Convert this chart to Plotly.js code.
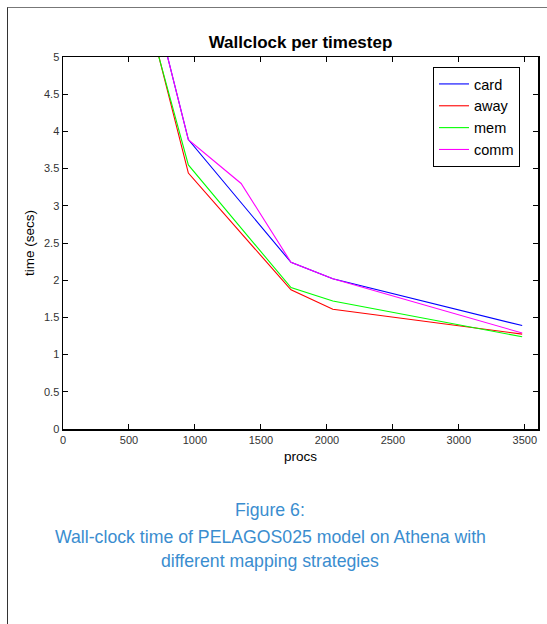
<!DOCTYPE html>
<html>
<head>
<meta charset="utf-8">
<script src="https://cdn.plot.ly/plotly-3.0.1.min.js"></script>
<style>
  html, body { margin: 0; padding: 0; background: #fff; }
  #wrap { position: relative; width: 547px; height: 624px; }
  #chart { position: absolute; left: 0; top: 0; width: 547px; height: 624px; }
  #frame { position: absolute; left: 7px; top: 7px; width: 545px; height: 620px;
           border-left: 1.5px solid #333; border-top: 1.5px solid #777; pointer-events: none; }
</style>
</head>
<body>
<div id="wrap">
  <div id="chart"></div>
  <div id="frame"></div>
</div>
<script>
// Data
const procs     = [650, 950, 1728, 2045, 3480];
const procsComm = [650, 950, 1350, 1728, 2045, 3480];
const card = [6.01, 3.89, 2.24, 2.02, 1.39];
const away = [5.54, 3.44, 1.87, 1.61, 1.275];
const mem  = [5.50, 3.55, 1.90, 1.72, 1.24];
const comm = [6.01, 3.89, 3.30, 2.24, 2.02, 1.29];

const seriesNames = ['card', 'away', 'mem', 'comm'];
const seriesColors = ['#0000ff', '#ff0000', '#00ff00', '#ff00ff'];
const xTickVals = [0, 500, 1000, 1500, 2000, 2500, 3000, 3500];
const yTickVals = [0, 0.5, 1, 1.5, 2, 2.5, 3, 3.5, 4, 4.5, 5];
const yTickText = ['0', '0.5', '1', '1.5', '2', '2.5', '3', '3.5', '4', '4.5', '5'];

const titleText = 'Wallclock per timestep';
const captionLines = ['Figure 6:', 'Wall-clock time of PELAGOS025 model on Athena with', 'different mapping strategies'];

const xs = [procs, procs, procs, procsComm];
const ys = [card, away, mem, comm];
const traces = seriesNames.map((n, i) => ({
  type: 'scatter', mode: 'lines', name: n,
  x: xs[i], y: ys[i],
  line: { color: seriesColors[i], width: 1.1 }
}));

const font = 'Liberation Sans, Arial, Helvetica, sans-serif';
const axisCommon = {
  showgrid: false, zeroline: false, showline: true, linecolor: '#000', linewidth: 1.5,
  mirror: 'ticks', ticks: 'inside', ticklen: 5, tickcolor: '#000', tickwidth: 1,
  tickfont: { family: font, size: 11, color: '#333' }
};

const lines = captionLines.map((t, i) => ({
  text: t, xref: 'paper', yref: 'paper', x: (270 - 63) / 475,
  y: (429 - [510, 537, 561][i]) / 372, xanchor: 'center', yanchor: 'middle',
  showarrow: false, font: { family: font, size: 17.7, color: '#3a8dcf' }
}));

const layout = {
  width: 547, height: 624,
  margin: { l: 63, r: 9, t: 57, b: 195 },
  paper_bgcolor: 'rgba(0,0,0,0)', plot_bgcolor: '#fff',
  showlegend: true,
  title: { text: '<b>' + titleText + '</b>', font: { family: font, size: 17, color: '#000' },
           x: 0.5, xref: 'paper', y: 1 - 42 / 624, yanchor: 'middle' },
  xaxis: Object.assign({}, axisCommon, {
    range: [0, 3600], tickvals: xTickVals,
    title: { text: 'procs', font: { family: font, size: 13.5, color: '#000' }, standoff: 7 }
  }),
  yaxis: Object.assign({}, axisCommon, {
    range: [0, 5], tickvals: yTickVals, ticktext: yTickText,
    title: { text: 'time (secs)', font: { family: font, size: 13.5, color: '#000' }, standoff: 6 }
  }),
  legend: {
    x: (433 - 63) / 475, y: (429 - 67) / 372, xanchor: 'left', yanchor: 'top',
    bordercolor: '#000', borderwidth: 1, bgcolor: '#fff',
    font: { family: font, size: 14.5, color: '#000' }, itemwidth: 30, tracegroupgap: 0
  },
  annotations: lines
};

Plotly.newPlot('chart', traces, layout, { staticPlot: true, displayModeBar: false });
</script>
</body>
</html>
